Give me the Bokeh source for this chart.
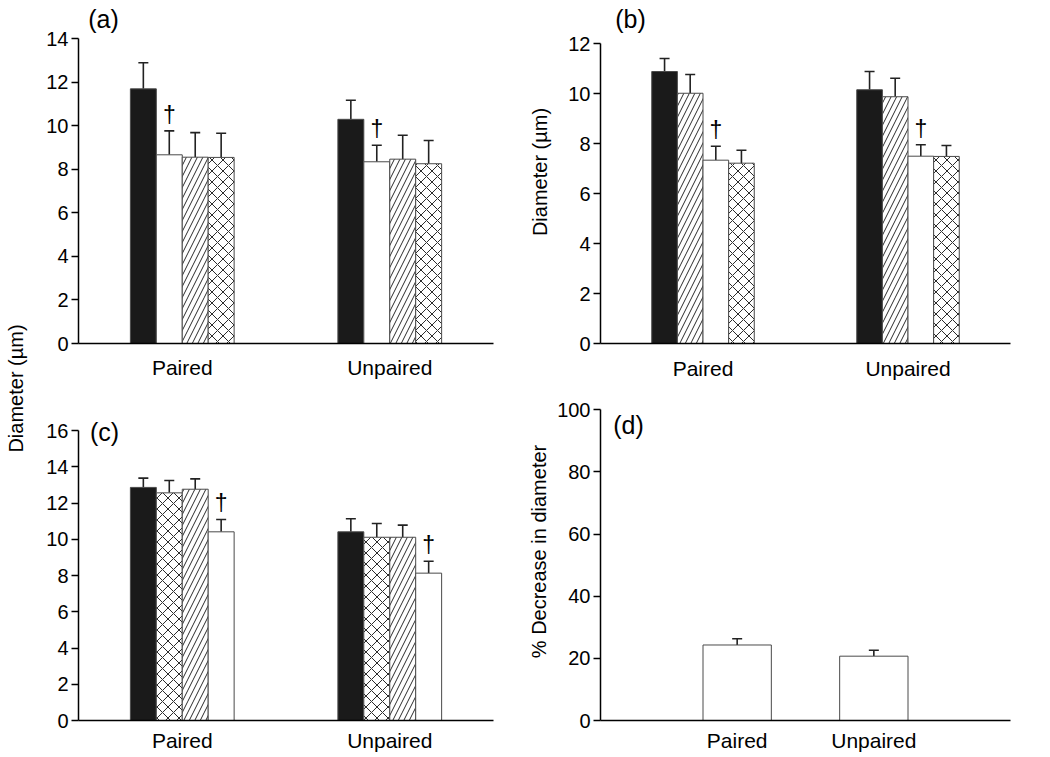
from bokeh.plotting import figure
from bokeh.models import ColumnDataSource, Range1d, FixedTicker, Whisker, TeeHead, Label
from bokeh.layouts import gridplot, row
from bokeh.core.properties import value
from bokeh.embed import file_html
from bokeh.resources import INLINE

FONT = "Liberation Sans"

# ---------------- data ----------------
groups = ["Paired", "Unpaired"]

# panel (a)
a_series = ["solid", "open", "hatched", "cross"]
a_vals = {"solid": [11.7, 10.3], "open": [8.67, 8.35], "hatched": [8.56, 8.47], "cross": [8.55, 8.26]}
a_errs = {"solid": [1.2, 0.88], "open": [1.1, 0.76], "hatched": [1.13, 1.1], "cross": [1.11, 1.07]}
a_sig = ["open"]
a_yticks = [0, 2, 4, 6, 8, 10, 12, 14]

# panel (b)
b_series = ["solid", "hatched", "open", "cross"]
b_vals = {"solid": [10.89, 10.16], "hatched": [10.02, 9.88], "open": [7.34, 7.5], "cross": [7.22, 7.49]}
b_errs = {"solid": [0.52, 0.73], "hatched": [0.75, 0.74], "open": [0.56, 0.46], "cross": [0.52, 0.44]}
b_sig = ["open"]
b_yticks = [0, 2, 4, 6, 8, 10, 12]

# panel (c)
c_series = ["solid", "cross", "hatched", "open"]
c_vals = {"solid": [12.86, 10.41], "cross": [12.56, 10.11], "hatched": [12.76, 10.11], "open": [10.41, 8.13]}
c_errs = {"solid": [0.51, 0.72], "cross": [0.68, 0.76], "hatched": [0.57, 0.67], "open": [0.68, 0.66]}
c_sig = ["open"]
c_yticks = [0, 2, 4, 6, 8, 10, 12, 14, 16]

# panel (d)
d_vals = [24.3, 20.7]
d_errs = [2.0, 1.9]
d_yticks = [0, 20, 40, 60, 80, 100]

STYLE = {
    "solid": dict(fill_color="#1a1a1a", hatch_pattern=None),
    "open": dict(fill_color="white", hatch_pattern=None),
    "hatched": dict(fill_color="white", hatch_pattern="/"),
    "cross": dict(fill_color="white", hatch_pattern="x"),
}


def make_fig(width, height, left, right, bottom, top_px, xr, yticks, xstandoff):
    # frame spans the full height above the bottom border; the axis stops at the top tick,
    # which sits top_px below the frame top
    frame_h = height - bottom
    ytop = yticks[-1]
    yend = ytop * frame_h / (frame_h - top_px)
    p = figure(width=width, height=height, toolbar_location=None, output_backend="svg",
               x_range=Range1d(*xr), y_range=Range1d(0, yend),
               min_border_left=left, min_border_right=right,
               min_border_top=0, min_border_bottom=bottom,
               outline_line_color=None, background_fill_color="white")
    p.grid.visible = False
    p.yaxis.ticker = FixedTicker(ticks=yticks)
    p.yaxis.bounds = (0, ytop)
    p.xaxis.ticker = FixedTicker(ticks=[i + 1 for i in range(len(groups))])
    p.xaxis.major_label_overrides = {i + 1: g for i, g in enumerate(groups)}
    for ax in (p.xaxis, p.yaxis):
        ax.axis_line_color = "black"
        ax.axis_line_width = 1.5
        ax.major_tick_line_color = "black"
        ax.major_tick_line_width = 1.5
        ax.minor_tick_out = 0
        ax.minor_tick_in = 0
        ax.major_tick_in = 0
        ax.major_label_text_font = FONT
        ax.major_label_text_color = "black"
        ax.axis_label_text_font = FONT
        ax.axis_label_text_font_style = "normal"
        ax.axis_label_text_font_size = "20px"
        ax.axis_label_text_color = "black"
    p.yaxis.major_tick_out = 7
    p.yaxis.major_label_standoff = 3
    p.yaxis.major_label_text_font_size = "20px"
    p.xaxis.major_tick_out = 0
    p.xaxis.major_label_standoff = xstandoff
    p.xaxis.major_label_text_font_size = "21px"
    return p


def add_whisker(p, src):
    p.add_layout(Whisker(source=src, base="x", lower="top", upper="up", dimension="height",
                         line_color="#222222", line_width=1.6, lower_head=None,
                         upper_head=TeeHead(size=10, line_color="#222222", line_width=1.6)))


def draw_groups(p, series, vals, errs, sig, bw=0.125):
    n = len(series)
    for k, s in enumerate(series):
        off = (k - (n - 1) / 2) * bw
        xs = [i + 1 + off for i in range(len(groups))]
        ups = [v + e for v, e in zip(vals[s], errs[s])]
        src = ColumnDataSource(dict(x=xs, top=vals[s], up=ups))
        st = STYLE[s]
        p.vbar(x="x", top="top", bottom=0, width=bw, source=src,
               fill_color=st["fill_color"], line_color="#4a4a4a", line_width=1,
               hatch_pattern=st["hatch_pattern"], hatch_color="#2a2a2a",
               hatch_scale=11, hatch_weight=1)
        add_whisker(p, src)
        if s in sig:
            p.text(x="x", y="up", text=value("\u2020"), source=src, text_font=value(FONT),
                   text_font_size="23px", text_align="center", text_baseline="bottom",
                   y_offset=-3, text_color="black")


def panel_label(p, txt, x, y):
    p.add_layout(Label(x=x, y=y, x_units="screen", y_units="screen", text=txt,
                       text_font=FONT, text_font_size="25px",
                       text_align="center", text_baseline="middle", text_color="black"))


# (a)
pa = make_fig(493, 382, 48, 12, 39, 38.3, (0.5, 2.5), a_yticks, 12)
draw_groups(pa, a_series, a_vals, a_errs, a_sig)
panel_label(pa, "(a)", 25, 325)

# (b)
pb = make_fig(527, 382, 76, 40, 39, 43.3, (0.5, 2.5), b_yticks, 13)
draw_groups(pb, b_series, b_vals, b_errs, b_sig)
pb.yaxis.axis_label = "Diameter (\u00b5m)"
pb.yaxis.axis_label_standoff = 14
panel_label(pb, "(b)", 30, 325)

# (c)
pc = make_fig(493, 375, 48, 30, 37, 48, (0.5, 2.5), c_yticks, 8)
draw_groups(pc, c_series, c_vals, c_errs, c_sig)
panel_label(pc, "(c)", 26, 289)

# (d)
pd_ = make_fig(527, 375, 77, 12, 37, 27.3, (0, 3), d_yticks, 8)
d_x = [i + 1 for i in range(len(groups))]
d_src = ColumnDataSource(dict(x=d_x, top=d_vals, up=[v + e for v, e in zip(d_vals, d_errs)]))
pd_.vbar(x="x", top="top", bottom=0, width=0.5, source=d_src, fill_color="white",
         line_color="#4a4a4a", line_width=1)
add_whisker(pd_, d_src)
pd_.yaxis.axis_label = "% Decrease in diameter"
pd_.yaxis.axis_label_standoff = 4
panel_label(pd_, "(d)", 28, 296)

# shared y label for (a) and (c)
strip = figure(width=30, height=757, toolbar_location=None, output_backend="svg",
               x_range=Range1d(0, 1), y_range=Range1d(0, 1), min_border=0,
               outline_line_color=None, x_axis_type=None, y_axis_type=None)
strip.grid.visible = False
strip.add_layout(Label(x=15, y=369, x_units="screen", y_units="screen", text="Diameter (\u00b5m)",
                       angle=90, angle_units="deg", text_align="center", text_baseline="middle",
                       text_font=FONT, text_font_size="20px", text_color="black"))

grid = gridplot([[pa, pb], [pc, pd_]], toolbar_location=None)
layout = row(strip, grid)

open("out.html", "w").write(file_html(layout, INLINE))
